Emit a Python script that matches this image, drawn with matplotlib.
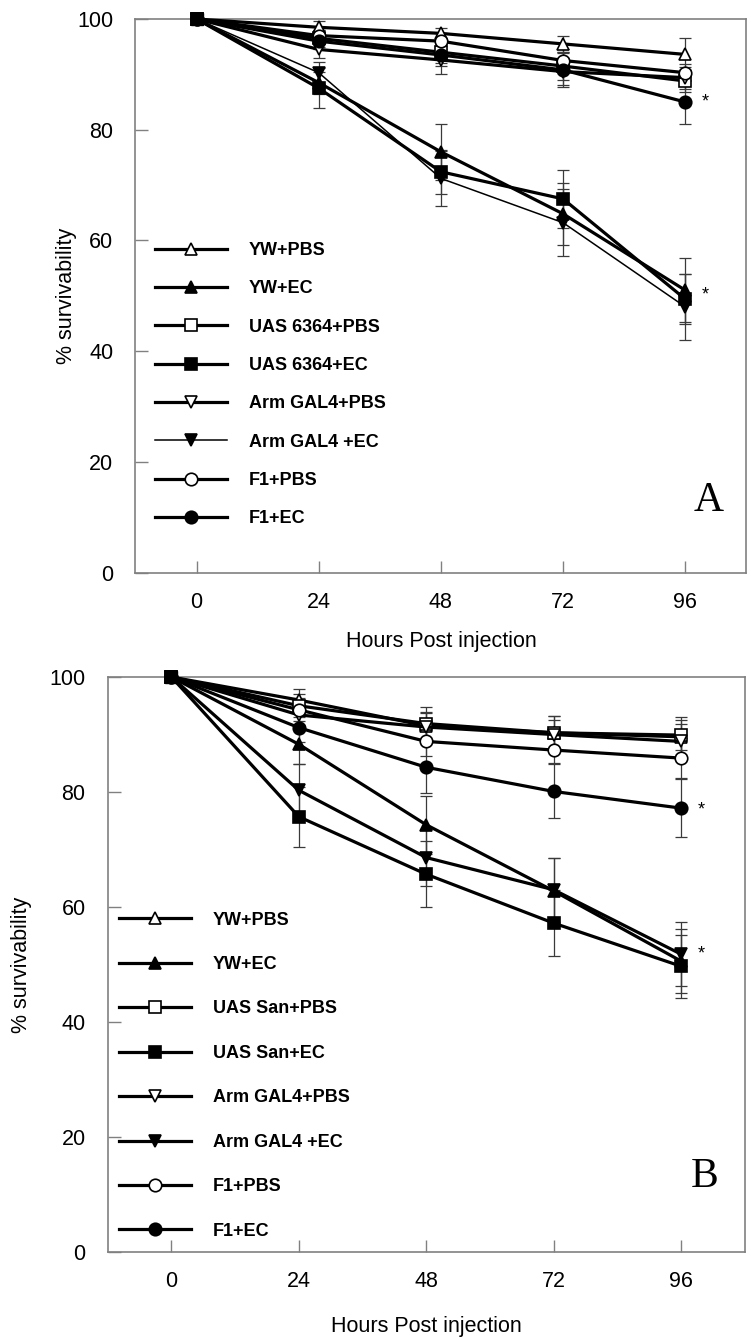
import matplotlib
matplotlib.use('Agg')
import matplotlib.pyplot as plt

plt.rcParams['font.family'] = ['Liberation Sans', 'DejaVu Sans']

hours = [0, 24, 48, 72, 96]
yticks = [0, 20, 40, 60, 80, 100]

# panel A: % survivability (mean) and error
a_labels = ['YW+PBS', 'YW+EC', 'UAS 6364+PBS', 'UAS 6364+EC',
            'Arm GAL4+PBS', 'Arm GAL4 +EC', 'F1+PBS', 'F1+EC']
a_yw_pbs = [100, 98.5, 97.4, 95.5, 93.6]
a_yw_ec = [100, 88.5, 76.0, 64.8, 51.0]
a_uas_pbs = [100, 96.5, 94.0, 91.5, 88.8]
a_uas_ec = [100, 87.5, 72.4, 67.5, 49.4]
a_arm_pbs = [100, 94.5, 92.6, 90.5, 89.4]
a_arm_ec = [100, 90.3, 71.2, 63.2, 48.0]
a_f1_pbs = [100, 97.0, 96.0, 92.5, 90.3]
a_f1_ec = [100, 96.0, 93.5, 90.8, 85.0]

a_yw_pbs_err = [0, 1.2, 1.0, 1.5, 2.9]
a_yw_ec_err = [0, 2.0, 5.0, 5.6, 5.8]
a_uas_pbs_err = [0, 1.5, 2.0, 2.5, 2.0]
a_uas_ec_err = [0, 3.6, 4.0, 5.2, 4.5]
a_arm_pbs_err = [0, 1.5, 2.5, 2.5, 2.0]
a_arm_ec_err = [0, 2.0, 5.0, 6.0, 6.0]
a_f1_pbs_err = [0, 1.0, 1.5, 2.0, 1.5]
a_f1_ec_err = [0, 1.5, 2.0, 3.0, 3.9]

# panel B
b_labels = ['YW+PBS', 'YW+EC', 'UAS San+PBS', 'UAS San+EC',
            'Arm GAL4+PBS', 'Arm GAL4 +EC', 'F1+PBS', 'F1+EC']
b_yw_pbs = [100, 96.0, 91.5, 90.3, 89.6]
b_yw_ec = [100, 88.3, 74.3, 62.8, 50.6]
b_uas_pbs = [100, 95.0, 91.9, 90.3, 89.9]
b_uas_ec = [100, 75.7, 65.7, 57.2, 49.7]
b_arm_pbs = [100, 93.4, 91.3, 90.0, 88.8]
b_arm_ec = [100, 80.3, 68.6, 63.0, 51.8]
b_f1_pbs = [100, 94.3, 88.8, 87.3, 85.9]
b_f1_ec = [100, 91.2, 84.3, 80.1, 77.2]

b_yw_pbs_err = [0, 2.0, 2.5, 3.0, 3.5]
b_yw_ec_err = [0, 3.4, 5.0, 5.8, 5.5]
b_uas_pbs_err = [0, 2.0, 2.8, 3.0, 2.6]
b_uas_ec_err = [0, 5.2, 5.7, 5.8, 5.5]
b_arm_pbs_err = [0, 2.5, 2.5, 2.5, 3.0]
b_arm_ec_err = [0, 4.6, 5.0, 5.6, 5.6]
b_f1_pbs_err = [0, 2.0, 2.5, 2.2, 3.5]
b_f1_ec_err = [0, 2.5, 4.5, 4.7, 5.0]

# significance stars (x, y) per panel
a_stars = [(96, 85.0), (96, 50.1)]
b_stars = [(96, 76.9), (96, 51.9)]

markers = ['^', '^', 's', 's', 'v', 'v', 'o', 'o']
filled = [False, True, False, True, False, True, False, True]


def draw_panel(ax, labels, means, errs, widths, stars, letter, leg_anchor, leg_space,
               ylab_x, xlab_y):
    handles = []
    for i in range(len(labels)):
        fc = 'black' if filled[i] else 'white'
        ax.errorbar(hours, means[i], yerr=errs[i], fmt='none', ecolor='#3a3a3a',
                    elinewidth=0.9, capsize=4, capthick=0.9, zorder=2)
        ln, = ax.plot(hours, means[i], color='black', lw=widths[i], marker=markers[i],
                      ms=9, mfc=fc, mec='black', mew=1.2, label=labels[i],
                      clip_on=False, zorder=3)
        handles.append(ln)
    # filled square on top at the starting point
    ax.plot(hours[:1], [means[3][0]], marker='s', ms=9, color='black', clip_on=False, zorder=5)

    for sx, sy in stars:
        ax.text(sx + 3.2, sy, '*', fontsize=13, va='center', ha='left')
    ax.text(100.5, 13, letter, family=['Liberation Serif', 'DejaVu Serif'],
            fontsize=30, ha='center', va='center')

    ax.set_xlim(-12, 108)
    ax.set_ylim(0, 100)
    ax.set_xticks(hours)
    ax.set_yticks(yticks)
    ax.tick_params(direction='in', length=9, width=1, color='#808080',
                   labelsize=15.5, pad=14)
    ax.tick_params(axis='y', pad=16)
    for sp in ax.spines.values():
        sp.set_color('#808080')
        sp.set_linewidth(1.2)
    ax.set_xlabel('Hours Post injection', fontsize=15.5)
    ax.set_ylabel('% survivability', fontsize=15.5)
    ax.xaxis.set_label_coords(0.5, xlab_y)
    ax.yaxis.set_label_coords(ylab_x, 0.5)

    ax.legend(handles=handles, loc='upper left', bbox_to_anchor=leg_anchor,
              frameon=False, borderpad=0, borderaxespad=0,
              handlelength=4.0, handletextpad=1.2, labelspacing=leg_space,
              prop={'weight': 'bold', 'size': 13})


fig = plt.figure(figsize=(7.51, 13.38), dpi=100)
ax_a = fig.add_axes([0.1804, 0.5721, 0.8134, 0.4137])
ax_b = fig.add_axes([0.1435, 0.0643, 0.8481, 0.4297])

a_means = [a_yw_pbs, a_yw_ec, a_uas_pbs, a_uas_ec, a_arm_pbs, a_arm_ec, a_f1_pbs, a_f1_ec]
a_errs = [a_yw_pbs_err, a_yw_ec_err, a_uas_pbs_err, a_uas_ec_err,
          a_arm_pbs_err, a_arm_ec_err, a_f1_pbs_err, a_f1_ec_err]
b_means = [b_yw_pbs, b_yw_ec, b_uas_pbs, b_uas_ec, b_arm_pbs, b_arm_ec, b_f1_pbs, b_f1_ec]
b_errs = [b_yw_pbs_err, b_yw_ec_err, b_uas_pbs_err, b_uas_ec_err,
          b_arm_pbs_err, b_arm_ec_err, b_f1_pbs_err, b_f1_ec_err]

draw_panel(ax_a, a_labels, a_means, a_errs, [2.3, 2.3, 2.3, 2.3, 2.3, 1.1, 2.3, 2.3],
           a_stars, 'A', (0.032, 0.597), 1.18, -0.096, -0.105)
draw_panel(ax_b, b_labels, b_means, b_errs, [2.3] * 8,
           b_stars, 'B', (0.0176, 0.592), 1.52, -0.119, -0.112)

fig.savefig('out.png', dpi=100)
